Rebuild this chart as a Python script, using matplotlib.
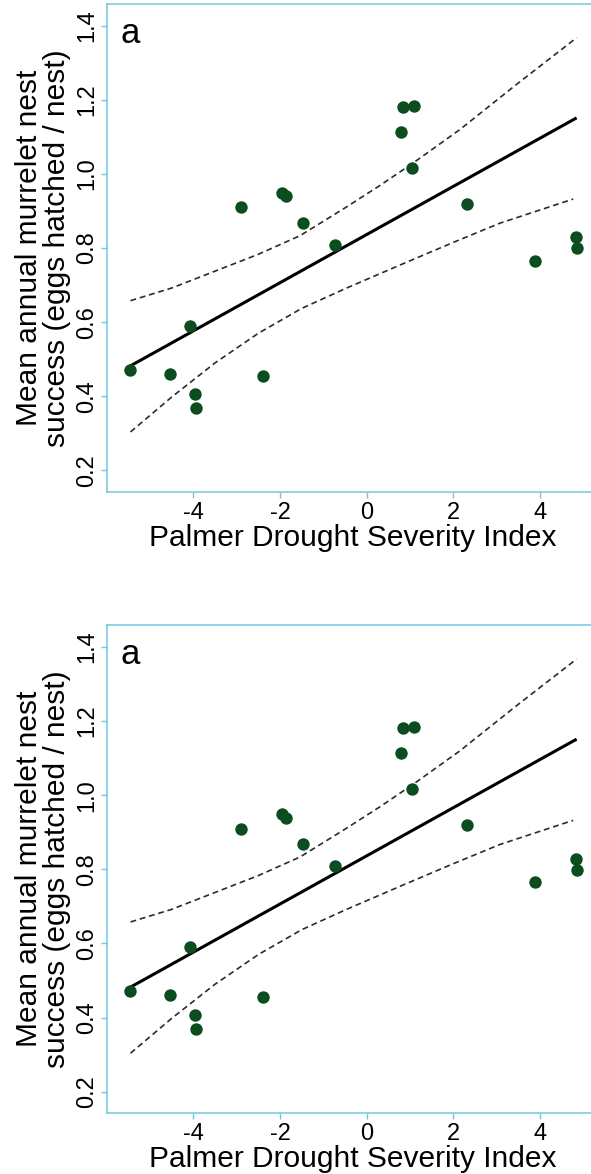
import numpy as np
import matplotlib
matplotlib.use("Agg")
import matplotlib.pyplot as plt

plt.rcParams['font.family'] = ['Liberation Sans', 'DejaVu Sans']
plt.rcParams['axes.unicode_minus'] = False

# points
pdsi = [-5.47, -4.54, -4.08, -3.97, -3.94, -2.89, -2.40, -1.96, -1.86, -1.46,
        -0.72, 0.79, 0.85, 1.10, 1.06, 2.33, 3.90, 4.83, 4.86]
nest_success = [0.471, 0.460, 0.590, 0.407, 0.369, 0.910, 0.456, 0.949, 0.939, 0.867,
                0.809, 1.113, 1.181, 1.183, 1.016, 0.920, 0.765, 0.829, 0.799]

# fitted line and confidence limits
fit_x = [-5.47, 4.85]
fit_y = [0.481, 1.151]
upper_x = [-5.45, -4.5, -3.62, -2.5, -1.54, -0.5, 0.3, 1.06, 2.15, 3.46, 4.85]
upper_y = [0.658, 0.692, 0.732, 0.783, 0.833, 0.908, 0.968, 1.028, 1.119, 1.241, 1.367]
lower_x = [-5.45, -4.5, -3.5, -2.5, -1.5, -0.5, 0.77, 2.0, 3.08, 4.77]
lower_y = [0.304, 0.398, 0.490, 0.570, 0.637, 0.690, 0.754, 0.815, 0.867, 0.932]

xticks = [-4, -2, 0, 2, 4]
yticks = [0.2, 0.4, 0.6, 0.8, 1.0, 1.2, 1.4]

frame_col = '#74c6de'
dot_col = '#0b4d1e'

W, H = 591, 1174
fig = plt.figure(figsize=(W / 100, H / 100), dpi=100)


def panel(top_px):
    left_px, right_px = 106.7, 599.6
    bottom_px = top_px + 488
    ax = fig.add_axes([left_px / W, 1 - bottom_px / H,
                       (right_px - left_px) / W, 488 / H])
    ax.plot(upper_x, upper_y, color='#2b2b2b', lw=1.2, ls=(0, (3.5, 2.3)))
    ax.plot(lower_x, lower_y, color='#2b2b2b', lw=1.2, ls=(0, (3.5, 2.3)))
    ax.plot(fit_x, fit_y, color='black', lw=2.2, solid_capstyle='butt')
    ax.scatter(pdsi, nest_success, s=80, color=dot_col, zorder=3, linewidths=0)

    ax.set_xlim(-6.0, 5.38)
    ax.set_ylim(0.142, 1.458)
    ax.set_xticks(xticks)
    ax.set_xticklabels([str(t) for t in xticks])
    ax.set_yticks(yticks)
    ax.set_yticklabels(['%.1f' % t for t in yticks], rotation=90, va='center')
    ax.tick_params(axis='both', colors=frame_col, labelcolor='black',
                   labelsize=17, length=4, width=1)
    ax.tick_params(axis='y', pad=2)
    ax.tick_params(axis='x', pad=3)
    for sp in ax.spines.values():
        sp.set_color(frame_col)
        sp.set_linewidth(1.1)

    ax.set_xlabel('Palmer Drought Severity Index', fontsize=21.5, labelpad=0)
    fig.text(43 / W, 1 - (top_px + 244) / H,
             'Mean annual murrelet nest\nsuccess (eggs hatched / nest)',
             rotation=90, ha='center', va='center', fontsize=21.5,
             linespacing=1.0, multialignment='center')
    ax.text(120 / W, 1 - (top_px + 39) / H, 'a', transform=fig.transFigure,
            fontsize=25, ha='left', va='baseline')
    return ax


panel(4)
panel(625.3)

fig.savefig('out.png', dpi=100)
